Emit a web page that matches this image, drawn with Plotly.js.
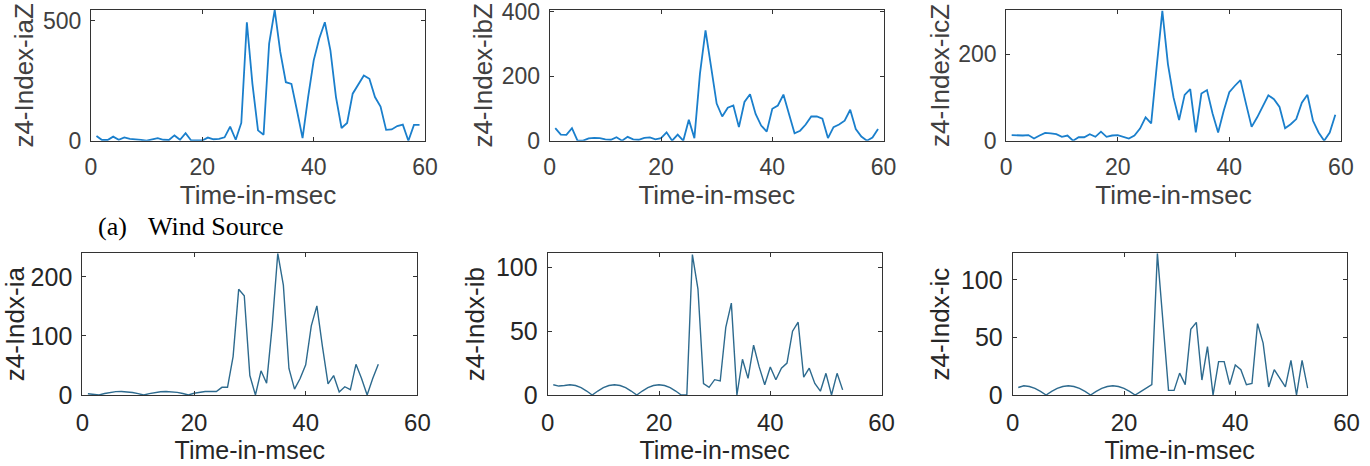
<!DOCTYPE html>
<html>
<head>
<meta charset="utf-8">
<script src="https://cdn.plot.ly/plotly-3.0.1.min.js"></script>
<style>html,body{margin:0;padding:0;background:#fff}#chart{width:1370px;height:466px}</style>
</head>
<body>
<div id="chart"></div>
<script>
// ---------- data ----------
const timeTop = [1,2,3,4,5,6,7,8,9,10,11,12,13,14,15,16,17,18,19,20,21,22,23,24,25,26,27,28,29,30,31,32,33,34,35,36,37,38,39,40,41,42,43,44,45,46,47,48,49,50,51,52,53,54,55,56,57,58,59];
const timeBottom = [1,2,3,4,5,6,7,8,9,10,11,12,13,14,15,16,17,18,19,20,21,22,23,24,25,26,27,28,29,30,31,32,33,34,35,36,37,38,39,40,41,42,43,44,45,46,47,48,49,50,51,52,53];

const indexIaZ = [20,3,3,17,4,14,8,4,3,0,6,11,4,3,22,4,31,1,1,1,13,6,8,14,59,4,74,494,237,43,25,405,545,370,244,237,126,11,182,335,426,494,377,182,53,74,196,237,272,258,182,142,45,47,61,67,0,66,66];
const indexIbZ = [39,19,18,39,0,0,7,9,8,4,3,11,0,12,4,3,9,10,4,8,26,0,19,0,65,8,208,342,229,115,75,102,109,42,120,144,83,47,28,99,109,143,83,23,31,50,75,75,68,8,42,50,62,96,36,13,0,10,36];
const indexIcZ = [13,12,12,13,5,12,18,17,15,9,12,0,8,8,15,9,21,9,12,13,9,5,12,28,54,40,173,300,177,100,48,106,119,19,109,117,63,19,69,112,127,140,85,32,54,78,105,96,78,29,38,50,88,106,46,19,0,19,60];

const indxIa = [2,1,0,2.5,4.5,5.7,6,5.5,4.2,2.3,0,2.3,4.2,5.5,6,5.6,4.5,2.5,0,3,4.5,6,6,6,13,13,65,179,168,33,0,41,20,117,240,186,45,10,28,51,117,151,82,19,33,5,14,9,52,28,0,28,52];
const indxIb = [8,7,7.4,8,7.4,5.7,3.1,0,3.1,5.7,7.4,8,7.4,5.7,3.1,0,3.1,5.7,7.4,8,7.4,5.7,3.1,0,0,110,83,9,6,12,11,53,72,0,28,13,39,22,8,22,12,21,25,50,57,14,21,9,3,17,0,17,4];
const indxIc = [6.5,8,7.4,5.7,3.1,0,3.1,5.7,7.4,8,7.4,5.7,3.1,0,3.1,5.7,7.4,8,7.4,5.7,3.1,0,3,6,9,123,60,4,4,19,9,57,63,13,42,0,29,29,9,26,22,9,10,62,45,7,22,15,7,30,0,30,6];

const yTitles = ['z4-Index-iaZ','z4-Index-ibZ','z4-Index-icZ','z4-Indx-ia','z4-Indx-ib','z4-Indx-ic'];
const xTitle = 'Time-in-msec';
const xTicks = [0,20,40,60];
const yTicks = [[0,500],[0,200,400],[0,200],[0,100,200],[0,50,100],[0,50,100]];
const yMax = [545,405,302,240,111,123];
const captionLabel = '(a)';
const captionText = 'Wind Source';

// ---------- layout geometry (pixels) ----------
const W = 1370, H = 466;
const boxes = [
  [90.9,425.1,10,140.7],[549.7,883.6,10,140.7],[1006.1,1340.9,10,140.7],
  [82.3,417.4,253.3,395],[547.7,881.6,253.3,395],[1012.7,1346.6,253.3,395]
];
const yTitleStandoff = [1,1,1,9,3,3];
const series = [
  [timeTop, indexIaZ],[timeTop, indexIbZ],[timeTop, indexIcZ],
  [timeBottom, indxIa],[timeBottom, indxIb],[timeBottom, indxIc]
];

const traces = [];
const layout = {
  width: W, height: H,
  margin: {l:0,r:0,t:0,b:0},
  paper_bgcolor: '#ffffff', plot_bgcolor: '#ffffff',
  showlegend: false,
  font: {family: 'Liberation Sans, Arial, sans-serif'},
  annotations: []
};

series.forEach((s, i) => {
  const n = i + 1;
  const top = i < 3;
  const txtCol = top ? '#404040' : '#262626';
  traces.push({
    x: s[0], y: s[1], type: 'scatter', mode: 'lines',
    xaxis: 'x' + n, yaxis: 'y' + n,
    line: {color: top ? '#1a7fcc' : '#2d6a8e', width: top ? 1.8 : 1.4},
    hoverinfo: 'skip', cliponaxis: true
  });
  const b = boxes[i];
  const xa = {
    domain: [b[0]/W, b[1]/W], anchor: 'y' + n,
    range: [0, 60], tickvals: xTicks, ticktext: xTicks.map(String),
    showgrid: false, zeroline: false,
    showline: true, mirror: 'ticks', linecolor: '#333333', linewidth: 1,
    ticks: 'inside', ticklen: 4, tickcolor: '#333333',
    tickfont: {size: top ? 23 : 24, color: txtCol},
    ticklabelstandoff: top ? 6 : 6, ticklabeloverflow: 'allow',
    title: {text: xTitle, font: {size: top ? 26 : 25, color: txtCol}, standoff: top ? 1 : 6},
    automargin: false, fixedrange: true
  };
  const ya = {
    domain: [1 - b[3]/H, 1 - b[2]/H], anchor: 'x' + n,
    range: [0, yMax[i]], tickvals: yTicks[i], ticktext: yTicks[i].map(String),
    showgrid: false, zeroline: false,
    showline: true, mirror: 'ticks', linecolor: '#333333', linewidth: 1,
    ticks: 'inside', ticklen: 4, tickcolor: '#333333',
    tickfont: {size: top ? 23 : 25, color: txtCol},
    ticklabelstandoff: 4, ticklabeloverflow: 'allow',
    title: {text: yTitles[i], font: {size: 26, color: txtCol}, standoff: yTitleStandoff[i]},
    automargin: false, fixedrange: true
  };
  layout['xaxis' + n] = xa;
  layout['yaxis' + n] = ya;
});

layout.annotations.push(
  {text: captionLabel, xref: 'paper', yref: 'paper', x: 96/W, y: 1 - 226/H,
   xanchor: 'left', yanchor: 'middle', showarrow: false,
   font: {family: 'Liberation Serif, Times New Roman, serif', size: 26, color: '#000'}},
  {text: captionText, xref: 'paper', yref: 'paper', x: 146/W, y: 1 - 226/H,
   xanchor: 'left', yanchor: 'middle', showarrow: false,
   font: {family: 'Liberation Serif, Times New Roman, serif', size: 26, color: '#000'}}
);

Plotly.newPlot('chart', traces, layout, {staticPlot: true, displayModeBar: false});
</script>
</body>
</html>
